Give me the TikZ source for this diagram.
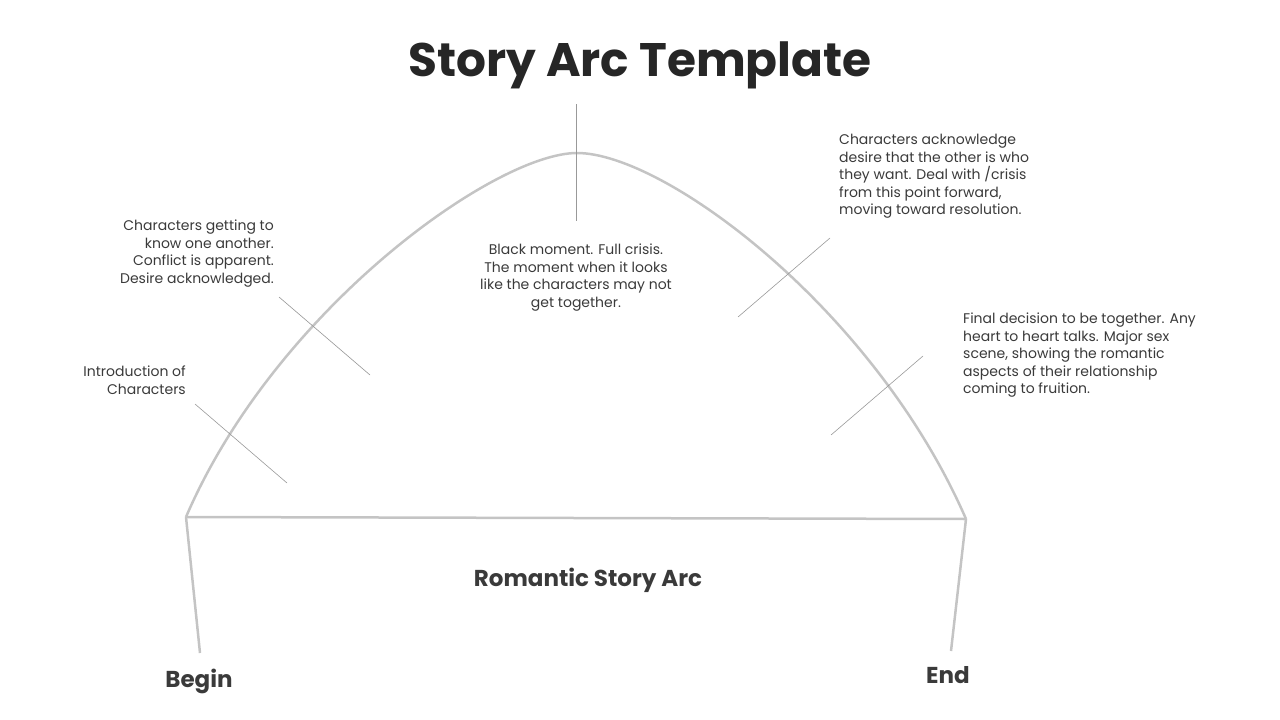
\documentclass[tikz,border=0pt]{standalone}
\usepackage{fontspec}
\setmainfont{Poppins}
\definecolor{arc}{HTML}{C4C4C4}
\definecolor{txt}{HTML}{3A3A3A}
\begin{document}
\begin{tikzpicture}[x=1pt,y=-1pt,
  arcline/.style={draw=arc,line width=2.5pt},
  tick/.style={draw=gray!80,line width=0.6pt},
  small/.style={font=\fontsize{14}{17.5}\selectfont,text=txt,inner sep=0pt},
  label/.style={font=\fontsize{23}{26}\selectfont\bfseries,text=txt}]
\useasboundingbox (0,0) rectangle (1280,720);
\node[font=\fontsize{47}{52}\selectfont\bfseries,text=black!85] (title) at (640,65) {Story Arc Template};
\coordinate (b) at (186,517); \coordinate (p) at (577,153); \coordinate (e) at (966,519);
\coordinate (bl) at (200,653); \coordinate (el) at (951,651);
\draw[arcline] (b) .. controls (275,310) and (495,153) .. (p) .. controls (665,153) and (875,310) .. (e);
\draw[arcline] (b) -- (e);
\draw[arcline] (b) -- (bl);
\draw[arcline] (e) -- (el);
\coordinate (v1) at (576,104); \coordinate (v2) at (576,221);
\draw[tick] (v1) -- (v2);
\coordinate (a1) at (195,404); \coordinate (a2) at (287,483); \draw[tick] (a1) -- (a2);
\coordinate (c1) at (279,297); \coordinate (c2) at (370,375); \draw[tick] (c1) -- (c2);
\coordinate (d1) at (830,238); \coordinate (d2) at (738,317); \draw[tick] (d1) -- (d2);
\coordinate (f1) at (923,356); \coordinate (f2) at (831,435); \draw[tick] (f1) -- (f2);
\node[small,align=right,anchor=north east] (t1) at (186,366) {Introduction of\\Characters};
\node[small,align=right,anchor=north east] (t2) at (274,220) {Characters getting to\\know one another.\\Conflict is apparent.\\Desire acknowledged.};
\node[small,align=center,anchor=north] (t3) at (576,244) {Black moment. Full crisis.\\The moment when it looks\\like the characters may not\\get together.};
\node[small,align=left,anchor=north west] (t4) at (839,134) {Characters acknowledge\\desire that the other is who\\they want. Deal with /crisis\\from this point forward,\\moving toward resolution.};
\node[small,align=left,anchor=north west] (t5) at (963,313) {Final decision to be together. Any\\heart to heart talks. Major sex\\scene, showing the romantic\\aspects of their relationship\\coming to fruition.};
\node[label] (rs) at (588,580) {Romantic Story Arc};
\node[label] (bg) at (199,681) {Begin};
\node[label] (en) at (948,675) {End};
\end{tikzpicture}
\end{document}
